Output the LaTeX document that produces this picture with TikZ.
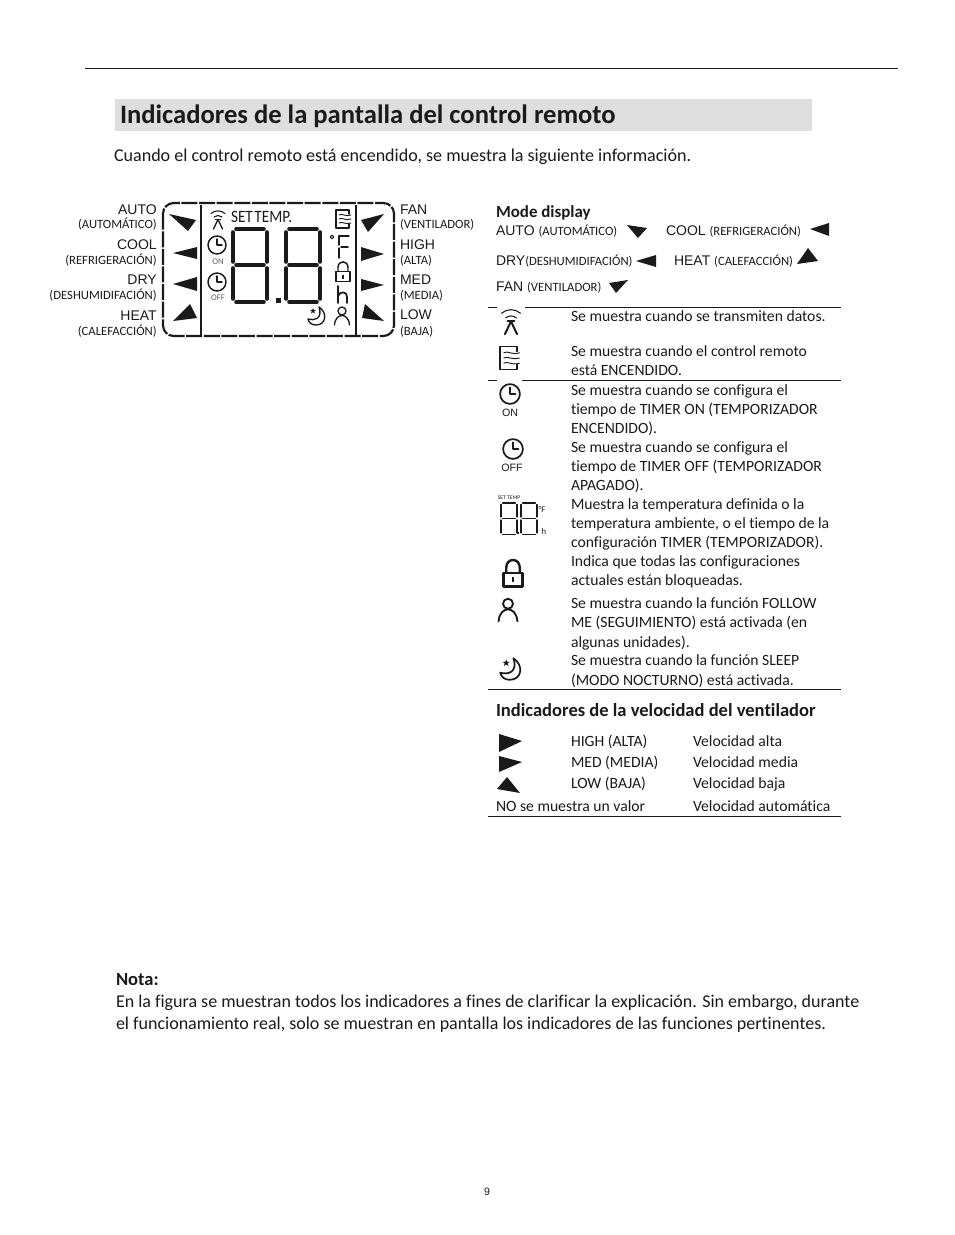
\documentclass[tikz,border=0pt]{standalone}
\usepackage{fontspec}
\setmainfont{Carlito}[Ligatures=NoCommon]
\newfontfamily\arialfont{Liberation Sans}
\newcommand{\fsz}[1]{\fontsize{#1}{#1}\selectfont}
\definecolor{ink}{HTML}{1A1A1A}
\definecolor{barfill}{HTML}{DEDEDE}
\tikzset{
  base/.style={anchor=base west,inner sep=0pt,outer sep=0pt,text=ink},
  body/.style={base,font=\fsz{13.5}},
  tbl/.style={base,font=\fsz{11.75}},
  tblb/.style={base,font=\fsz{13.9}\bfseries},
  lblR/.style={anchor=base east,inner sep=0pt,text=ink,font=\arialfont\fsz{10.5}},
  subR/.style={anchor=base east,inner sep=0pt,text=ink,font=\fsz{9.5}},
  lblL/.style={base,font=\arialfont\fsz{10.5}},
  subL/.style={base,font=\fsz{9.5}},
  modeT/.style={base,font=\arialfont\fsz{10.5}},
  tri/.style={fill=ink,draw=none},
  rule/.style={draw=ink,line width=0.6pt},
  icon/.style={draw=ink,fill=none,line cap=round,line join=round},
  pics/digit/.style={code={
    \draw[ink,line cap=round] (3.5,0)--(30.5,0);
    \draw[ink,line cap=round] (3.5,36)--(30.5,36);
    \draw[ink,line cap=round] (3.5,73)--(30.5,73);
    \draw[ink,line cap=round] (0,3.5)--(0,32.5);
    \draw[ink,line cap=round] (34,3.5)--(34,32.5);
    \draw[ink,line cap=round] (0,39.5)--(0,69.5);
    \draw[ink,line cap=round] (34,39.5)--(34,69.5);
  }},
  pics/clockicon/.style={code={
    \draw[icon] (0,0) circle (9);
    \draw[icon] (0,-6)--(0,0)--(5,0);
  }},
  pics/signalicon/.style={code={
    \draw[icon,line width=0.8pt] (-7,-6.5) .. controls (-3,-10) and (3,-10) .. (7,-6.5);
    \draw[icon,line width=0.8pt] (-4,-3) .. controls (-1.5,-5) and (1.5,-5) .. (4,-3);
    \draw[icon] (-4.5,9)--(0,-0.5)--(4.5,9);
    \draw[icon] (-2.5,-0.5)--(2.5,-0.5);
  }},
  pics/docicon/.style={code={
    \draw[icon] (6,-5)--(6,-9)--(-7,-9)--(-7,9)--(6,9)--(6,5);
    \foreach \yy in {-4,0,4}{
      \draw[icon,line width=0.7pt] (-4,\yy) .. controls (-1,{\yy-2}) and (2,{\yy+2}) .. (8,\yy);
    }
  }},
  pics/lockicon/.style={code={
    \draw[icon] (-7,0) rectangle (7,10);
    \draw[icon] (-5,0)--(-5,-4) .. controls (-5,-11.5) and (5,-11.5) .. (5,-4)--(5,0);
    \fill[ink] (-1,3) rectangle (1,7);
  }},
  pics/personicon/.style={code={
    \draw[icon] (0,-5) circle (4);
    \draw[icon] (-7.5,9) .. controls (-7,2) and (-3,-0.5) .. (0,-0.5) .. controls (3,-0.5) and (7,2) .. (7.5,9);
  }},
  pics/moonicon/.style={code={
    \draw[icon] (2,-9) .. controls (11,-3) and (9,9) .. (-1,9) .. controls (-5,9) and (-8,7) .. (-9,3) .. controls (-3,5) and (6,3) .. (2,-9)--cycle;
    \fill[ink] (-4,-8)--(-3.2,-6)--(-1,-6)--(-2.8,-4.6)--(-2,-2.5)--(-4,-3.8)--(-6,-2.5)--(-5.2,-4.6)--(-7,-6)--(-4.8,-6)--cycle;
  }},
}
\begin{document}
\begin{tikzpicture}[x=0.75pt,y=-0.75pt]
\useasboundingbox (0,0) rectangle (954,1235);
% page furniture
\coordinate (topL) at (85,68.5); \coordinate (topR) at (898,68.5);
\draw[rule] (topL)--(topR);
\fill[barfill] (115,99) rectangle (812,131);
\node[base,font=\fsz{19.95}\bfseries,text=ink] (title) at (120,123) {Indicadores de la pantalla del control remoto};
\node[base,font=\fsz{13.55}] (intro) at (114,161) {Cuando el control remoto está encendido, se muestra la siguiente información.};

% LCD panel
\draw[ink,line width=1.6pt,rounded corners=8,dash pattern=on 12pt off 1.2pt] (163,203) rectangle (394,336);
\draw[ink,line width=1.5pt] (201,205)--(201,335);
\draw[ink,line width=1.5pt] (356,205)--(356,335);
\fill[tri] (169,214)--(196,220)--(188,231)--cycle;
\fill[tri] (173,253)--(197,247)--(197,259)--cycle;
\fill[tri] (173,284)--(197,277)--(197,291)--cycle;
\fill[tri] (173,321)--(197,318)--(190,304)--cycle;
\fill[tri] (361,220)--(384,214)--(368,232)--cycle;
\fill[tri] (361,247)--(384,254)--(361,261)--cycle;
\fill[tri] (361,279)--(384,285)--(361,291)--cycle;
\fill[tri] (362,318)--(384,321)--(365,304)--cycle;
\node[lblR] (lAuto) at (157,214) {AUTO};
\node[subR] (sAuto) at (157,228) {(AUTOMÁTICO)};
\node[lblR] (lCool) at (157,249) {COOL};
\node[subR] (sCool) at (157,264) {(REFRIGERACIÓN)};
\node[lblR] (lDry) at (157,284) {DRY};
\node[subR] (sDry) at (157,299) {(DESHUMIDIFACIÓN)};
\node[lblR] (lHeat) at (157,320) {HEAT};
\node[subR] (sHeat) at (157,335) {(CALEFACCIÓN)};
\node[lblL] (lFan) at (400,214) {FAN};
\node[subL] (sFan) at (400,228) {(VENTILADOR)};
\node[lblL] (lHigh) at (400,249) {HIGH};
\node[subL] (sHigh) at (400,264) {(ALTA)};
\node[lblL] (lMed) at (400,284) {MED};
\node[subL] (sMed) at (400,299) {(MEDIA)};
\node[lblL] (lLow) at (400,319) {LOW};
\node[subL] (sLow) at (400,335) {(BAJA)};
\pic[line width=1pt] at (218,220) {signalicon};
\node[base,font=\fsz{13},xscale=0.88] (settemp) at (231,222) {SET\hspace{-0.12em} TEMP.};
\pic[line width=1.1pt] at (343,219) {docicon};
\pic[line width=1.1pt] at (217,245) {clockicon};
\node[inner sep=0pt,text=ink!70,font=\fsz{6.5}] (onA) at (218,262) {ON};
\pic[line width=1.1pt] at (217,282) {clockicon};
\node[inner sep=0pt,text=ink!70,font=\fsz{6.5}] (offA) at (218,298) {OFF};
\pic[line width=3.5pt] at (233,229) {digit};
\pic[line width=3.5pt] at (286,229) {digit};
\fill[ink] (276,298) rectangle (280.5,302.5);
\draw[icon,line width=0.8pt] (332,237) circle (1.8);
\draw[icon,line width=1.1pt] (339,236)--(349,236);
\draw[icon,line width=1.1pt] (339,236)--(339,245);
\draw[icon,line width=1.1pt] (339,248)--(339,258);
\draw[icon,line width=1.1pt] (341,247)--(348,247);
\pic[line width=1.1pt] at (343,271.5) {lockicon};
\draw[icon,line width=1.3pt] (338,286)--(338,303);
\draw[icon,line width=1.3pt] (338,296) .. controls (340,291) and (347,291) .. (347,297)--(347,303);
\pic[line width=1pt] at (317,316) {moonicon};
\pic[line width=1pt] at (342,316) {personicon};

% Mode display
\node[base,font=\fsz{12.7}\bfseries] (modeH) at (496,217) {Mode display};
\node[modeT] (mAuto) at (496,235) {AUTO {\rmfamily\fsz{9.5}(AUTOMÁTICO)}};
\fill[tri] (627,225)--(647,228)--(638,238)--cycle;
\node[modeT] (mCool) at (666,235) {COOL {\rmfamily\fsz{9.5}(REFRIGERACIÓN)}};
\fill[tri] (810,229)--(829,223)--(829,236)--cycle;
\node[modeT] (mDry) at (496,265) {DRY{\rmfamily\fsz{9.5}(DESHUMIDIFACIÓN)}};
\fill[tri] (636,261)--(656,255)--(656,267)--cycle;
\node[modeT] (mHeat) at (674,265) {HEAT {\rmfamily\fsz{9.5}(CALEFACCIÓN)}};
\fill[tri] (797,264)--(818,261)--(808,248)--cycle;
\node[modeT] (mFan) at (496,291) {FAN {\rmfamily\fsz{9.5}(VENTILADOR)}};
\fill[tri] (609,283)--(628,280)--(616,293)--cycle;

% table rules
\draw[rule] (488,307)--(497,307);
\draw[rule] (525,307)--(841,307);
\draw[rule] (488,380.5)--(497,380.5);
\draw[rule] (522,380.5)--(841,380.5);
\draw[rule] (488,689.5)--(841,689.5);
\draw[rule] (488,816.5)--(841,816.5);

% table icons
\pic[scale=1.35,line width=1.5pt] at (511,322) {signalicon};
\pic[scale=1.3,line width=1.1pt] at (509,358) {docicon};
\pic[scale=1.1,line width=1.3pt] at (510,394) {clockicon};
\node[inner sep=0pt,text=ink,font=\arialfont\fsz{8}] (onB) at (510,413) {ON};
\pic[scale=1.1,line width=1.3pt] at (513,449) {clockicon};
\node[inner sep=0pt,text=ink,font=\arialfont\fsz{8}] (offB) at (512,468) {OFF};
\node[inner sep=0pt,text=ink,font=\fsz{4.2}] (setB) at (509,498) {SET TEMP};
\pic[xscale=0.47,yscale=0.43,line width=1pt] at (501,503) {digit};
\pic[xscale=0.47,yscale=0.43,line width=1pt] at (521,503) {digit};
\fill[ink] (517,532) rectangle (518.5,534);
\node[inner sep=0pt,text=ink,font=\fsz{6.5}] (fB) at (542,510) {°F};
\node[inner sep=0pt,text=ink,font=\fsz{6.5}] (hB) at (544,531) {h};
\pic[scale=1.35,line width=1.8pt] at (513,573) {lockicon};
\pic[scale=1.25,line width=1.4pt] at (508,610) {personicon};
\pic[scale=1.2,line width=1.3pt] at (511,669) {moonicon};

% table text
\node[tbl] (t1) at (571,321) {Se muestra cuando se transmiten datos.};
\node[tbl] (t2) at (571,356) {Se muestra cuando el control remoto};
\node[tbl] (t3) at (571,375) {está ENCENDIDO.};
\node[tbl] (t4) at (571,395) {Se muestra cuando se configura el};
\node[tbl] (t5) at (571,414) {tiempo de TIMER ON (TEMPORIZADOR};
\node[tbl] (t6) at (571,433) {ENCENDIDO).};
\node[tbl] (t7) at (571,452) {Se muestra cuando se configura el};
\node[tbl] (t8) at (571,471) {tiempo de TIMER OFF (TEMPORIZADOR};
\node[tbl] (t9) at (571,490) {APAGADO).};
\node[tbl] (t10) at (571,509) {Muestra la temperatura definida o la};
\node[tbl] (t11) at (571,528) {temperatura ambiente, o el tiempo de la};
\node[tbl] (t12) at (571,547) {configuración TIMER (TEMPORIZADOR).};
\node[tbl] (t13) at (571,566) {Indica que todas las configuraciones};
\node[tbl] (t14) at (571,585) {actuales están bloqueadas.};
\node[tbl] (t15) at (571,608) {Se muestra cuando la función FOLLOW};
\node[tbl] (t16) at (571,627) {ME (SEGUIMIENTO) está activada (en};
\node[tbl] (t17) at (571,647) {algunas unidades).};
\node[tbl] (t18) at (571,665) {Se muestra cuando la función SLEEP};
\node[tbl] (t19) at (571,685) {(MODO NOCTURNO) está activada.};

% fan speed
\node[tblb] (fanH) at (496,716) {Indicadores de la velocidad del ventilador};
\fill[tri] (499,734)--(522,741)--(499,752)--cycle;
\fill[tri] (499,756)--(522,762)--(499,772)--cycle;
\fill[tri] (497,789)--(520,793)--(507,777)--cycle;
\node[tbl] (f1a) at (571,746) {HIGH (ALTA)};
\node[tbl] (f1b) at (693,746) {Velocidad alta};
\node[tbl] (f2a) at (571,767) {MED (MEDIA)};
\node[tbl] (f2b) at (693,767) {Velocidad media};
\node[tbl] (f3a) at (571,788) {LOW (BAJA)};
\node[tbl] (f3b) at (693,788) {Velocidad baja};
\node[tbl] (f4a) at (496,811) {NO se muestra un valor};
\node[tbl] (f4b) at (693,811) {Velocidad automática};

% note
\node[tblb] (nota) at (116,985) {Nota:};
\node[body] (n1) at (116,1007) {En la figura se muestran todos los indicadores a fines de clarificar la explicación. Sin embargo, durante};
\node[body] (n2) at (116,1029) {el funcionamiento real, solo se muestran en pantalla los indicadores de las funciones pertinentes.};
\node[inner sep=0pt,text=ink,font=\arialfont\fsz{8}] (pg) at (487,1192) {9};
\end{tikzpicture}
\end{document}
